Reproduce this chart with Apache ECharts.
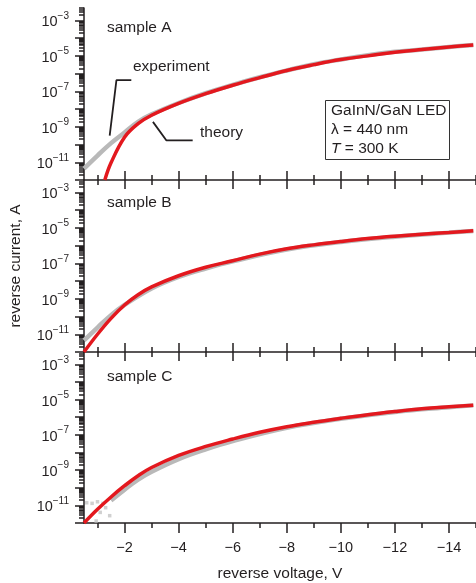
<!DOCTYPE html>
<html>
<head>
    <title>reverse current</title>
    <meta charset="UTF-8">
    <script src="https://cdn.jsdelivr.net/npm/echarts@6/dist/echarts.min.js"></script>
    <style>
        html, body { margin: 0; padding: 0; background: #fff; }
        #chart { width: 476px; height: 583px; }
    </style>
</head>
<body>
<div id="chart"></div>

<script>
    // values: voltage in V, current in A
    var voltTheoryA = [-1.27, -1.5, -2, -2.5, -3, -4, -5, -6, -7, -8, -9, -10, -11, -12, -13, -14, -14.9];
    var currTheoryA = [1.0e-12, 9.3e-12, 2.6e-10, 1.5e-9, 4.5e-9, 2.1e-8, 7.4e-8, 2.2e-7, 5.9e-7, 1.5e-6, 3.2e-6, 6.2e-6, 1.0e-5, 1.6e-5, 2.3e-5, 3.2e-5, 4.1e-5];
    var voltExpA = [-0.5, -1, -1.5, -2, -2.5, -3, -4, -5, -6, -7, -8, -9, -10, -11, -12, -13, -14, -14.9];
    var currExpA = [4.4e-12, 2.4e-11, 1.2e-10, 4.8e-10, 1.9e-9, 5.0e-9, 2.2e-8, 7.8e-8, 2.3e-7, 6.2e-7, 1.5e-6, 3.4e-6, 6.3e-6, 1.1e-5, 1.7e-5, 2.3e-5, 3.2e-5, 4.1e-5];

    var voltTheoryB = [-0.5, -1, -1.5, -2, -2.5, -3, -4, -5, -6, -7, -8, -9, -10, -11, -12, -13, -14, -14.9];
    var currTheoryB = [1.0e-12, 1.0e-11, 7.9e-11, 4.5e-10, 1.7e-9, 4.7e-9, 2.0e-8, 6.0e-8, 1.4e-7, 3.3e-7, 6.6e-7, 1.1e-6, 1.7e-6, 2.5e-6, 3.4e-6, 4.4e-6, 5.5e-6, 6.8e-6];
    var voltExpB = [-0.5, -1, -1.5, -2, -3, -4, -5, -6, -8, -10, -12, -14, -14.9];
    var currExpB = [4.5e-12, 2.4e-11, 1.2e-10, 4.5e-10, 3.8e-9, 1.7e-8, 5.1e-8, 1.3e-7, 6.0e-7, 1.6e-6, 3.2e-6, 5.4e-6, 6.6e-6];

    var voltTheoryC = [-0.5, -1, -1.5, -2, -2.5, -3, -4, -5, -6, -7, -8, -9, -10, -11, -12, -13, -14, -14.9];
    var currTheoryC = [1.0e-12, 6.0e-12, 3.0e-11, 1.3e-10, 4.8e-10, 1.4e-9, 6.8e-9, 2.2e-8, 5.8e-8, 1.4e-7, 2.9e-7, 5.2e-7, 8.7e-7, 1.4e-6, 2.1e-6, 3.0e-6, 3.9e-6, 4.8e-6];
    var voltExpC = [-1.5, -2, -2.5, -3, -4, -5, -6, -8, -10, -12, -14, -14.9];
    var currExpC = [1.9e-11, 7.8e-11, 2.9e-10, 8.1e-10, 4.2e-9, 1.5e-8, 4.4e-8, 2.5e-7, 8.1e-7, 2.0e-6, 3.7e-6, 4.7e-6];
    // loose experimental points at low bias, sample C
    var voltDotsC = [-0.6, -0.8, -1.0, -1.1, -1.3, -1.45, -0.95, -1.2];
    var currDotsC = [1.4e-11, 1.3e-11, 1.6e-11, 4.0e-12, 7.4e-12, 2.6e-12, 1.3e-12, 1.3e-11];

    // annotation leader lines in sample A (V, A)
    var voltPointerExp = [-2.25, -1.7, -1.45];
    var currPointerExp = [4.3e-7, 4.3e-7, 3.2e-10];
    var voltPointerTheory = [-4.52, -3.55, -3.05];
    var currPointerTheory = [1.7e-10, 1.7e-10, 1.9e-9];

    var sampleNames = ['sample A', 'sample B', 'sample C'];

    // axis ticks
    var xMajorTicks = [-14, -12, -10, -8, -6, -4, -2];
    var xMinorTicks = [-15, -13, -11, -9, -7, -5, -3, -1];
    var yMajorExp = [-12, -11, -10, -9, -8, -7, -6, -5, -4, -3];
    var yLabelExp = [-11, -9, -7, -5, -3];
    var yMin = -12, yMax = -2.3;

    var yMinorExp = [];
    yMajorExp.forEach(function (n) {
        for (var k = 2; k <= 9; k++) {
            var v = n + Math.log10(k);
            if (v < yMax) yMinorExp.push(v);
        }
    });

    var FONT = '"Liberation Sans", Arial, sans-serif';
    var INK = '#231f20';
    var RED = '#e3181e';
    var GREY = '#b9b9b9';

    function pairs(volts, amps) {
        return volts.map(function (v, i) { return [v, Math.log10(amps[i])]; });
    }

    var grids = [
        {left: 84, right: 0, top: 8, height: 172},
        {left: 84, right: 0, top: 180, height: 172},
        {left: 84, right: 0, top: 352, height: 171}
    ];

    function xAxis(i, opts) {
        var a = {
            gridIndex: i, type: 'value', position: 'bottom', min: -15, max: -0.5, inverse: true,
            splitLine: {show: false},
            axisLine: {show: false, onZero: false, lineStyle: {color: INK, width: 1.5}},
            axisTick: {show: false},
            axisLabel: {show: false}
        };
        return Object.assign(a, opts);
    }

    function tick(values, len) {
        return {show: true, customValues: values, length: len, lineStyle: {color: INK, width: 1.5}};
    }

    var xAxes = [];
    [0, 1].forEach(function (i) {
        xAxes.push(xAxis(i, {axisLine: {show: true, onZero: false, lineStyle: {color: INK, width: 1.5}}}));
        xAxes.push(xAxis(i, {offset: -9, axisTick: tick(xMajorTicks, 18)}));
        xAxes.push(xAxis(i, {offset: -5, axisTick: tick(xMinorTicks, 10)}));
    });
    xAxes.push(xAxis(2, {
        axisLine: {show: true, onZero: false, lineStyle: {color: INK, width: 1.5}},
        axisTick: tick(xMajorTicks, 10),
        axisLabel: {
            show: true, customValues: xMajorTicks, margin: 17,
            fontSize: 14.5, fontFamily: FONT, color: INK,
            formatter: function (v) { return '\u2212' + Math.abs(v); }
        },
        name: 'reverse voltage, V', nameLocation: 'middle', nameGap: 43,
        nameTextStyle: {fontSize: 15.5, fontFamily: FONT, color: INK}
    }));
    xAxes.push(xAxis(2, {axisTick: tick(xMinorTicks, 5)}));

    var yAxes = [];
    [0, 1, 2].forEach(function (i) {
        var main = {
            gridIndex: i, type: 'value', position: 'left', min: yMin, max: yMax,
            splitLine: {show: false},
            axisLine: {show: true, onZero: false, lineStyle: {color: INK, width: 1.5}},
            axisTick: tick(yMajorExp, 9),
            axisLabel: {
                show: true, customValues: yLabelExp, margin: 15,
                formatter: function (v) { return '{b|10}{s|\u2212' + Math.abs(Math.round(v)) + '}'; },
                rich: {
                    b: {fontSize: 14.5, fontFamily: FONT, color: INK, verticalAlign: 'bottom'},
                    s: {fontSize: 10, fontFamily: FONT, color: INK, verticalAlign: 'bottom', padding: [0, 0, 9, 0]}
                }
            }
        };
        if (i === 1) {
            main.name = 'reverse current, A';
            main.nameLocation = 'middle';
            main.nameGap = 60;
            main.nameTextStyle = {fontSize: 15.5, fontFamily: FONT, color: INK};
        }
        yAxes.push(main);
        yAxes.push({
            gridIndex: i, type: 'value', position: 'left', min: yMin, max: yMax,
            splitLine: {show: false},
            axisLine: {show: false, onZero: false},
            axisTick: tick(yMinorExp, 5),
            axisLabel: {show: false}
        });
    });

    function curve(xi, yi, data, color, width) {
        return {
            type: 'line', xAxisIndex: xi, yAxisIndex: yi, data: data,
            showSymbol: false, symbol: 'none', smooth: 0.4, silent: true,
            lineStyle: {color: color, width: width}
        };
    }

    function pointer(data) {
        return {
            type: 'line', xAxisIndex: 0, yAxisIndex: 0, data: data,
            symbol: 'none', silent: true, z: 4,
            lineStyle: {color: INK, width: 1.8}
        };
    }

    var series = [
        curve(0, 0, pairs(voltExpA, currExpA), GREY, 4.5),
        curve(0, 0, pairs(voltTheoryA, currTheoryA), RED, 3.5),
        curve(3, 2, pairs(voltExpB, currExpB), GREY, 4.5),
        curve(3, 2, pairs(voltTheoryB, currTheoryB), RED, 3.5),
        {
            type: 'scatter', xAxisIndex: 6, yAxisIndex: 4, data: pairs(voltDotsC, currDotsC),
            symbol: 'rect', symbolSize: 3.5, silent: true, itemStyle: {color: '#c4c4c4'}
        },
        curve(6, 4, pairs(voltExpC, currExpC), GREY, 4.5),
        curve(6, 4, pairs(voltTheoryC, currTheoryC), RED, 3.5),
        pointer(pairs(voltPointerExp, currPointerExp)),
        pointer(pairs(voltPointerTheory, currPointerTheory))
    ];

    function label(x, y, text) {
        return {
            type: 'text', x: x, y: y, silent: true,
            style: {text: text, fontSize: 15.5, fontFamily: FONT, fill: INK, align: 'left', verticalAlign: 'middle'}
        };
    }

    var graphics = [
        label(107, 28, sampleNames[0]),
        label(107, 203, sampleNames[1]),
        label(107, 377, sampleNames[2]),
        label(133, 67, 'experiment'),
        label(200, 133, 'theory'),
        {
            type: 'rect', silent: true,
            shape: {x: 325.5, y: 100.5, width: 124, height: 59},
            style: {fill: '#fff', stroke: '#333', lineWidth: 1}
        },
        label(331, 111, 'GaInN/GaN LED'),
        label(331, 130, '\u03bb = 440 nm'),
        {
            type: 'text', x: 331, y: 149, silent: true,
            style: {
                text: '{i|T} = 300 K', fontSize: 15.5, fontFamily: FONT, fill: INK,
                align: 'left', verticalAlign: 'middle',
                rich: {i: {fontStyle: 'italic', fontSize: 15.5, fontFamily: FONT, color: INK}}
            }
        }
    ];

    var option = {
        animation: false,
        backgroundColor: '#fff',
        grid: grids,
        xAxis: xAxes,
        yAxis: yAxes,
        series: series,
        graphic: graphics
    };

    var myChart = echarts.init(document.getElementById('chart'));
    myChart.setOption(option);
</script>
</body>
</html>
